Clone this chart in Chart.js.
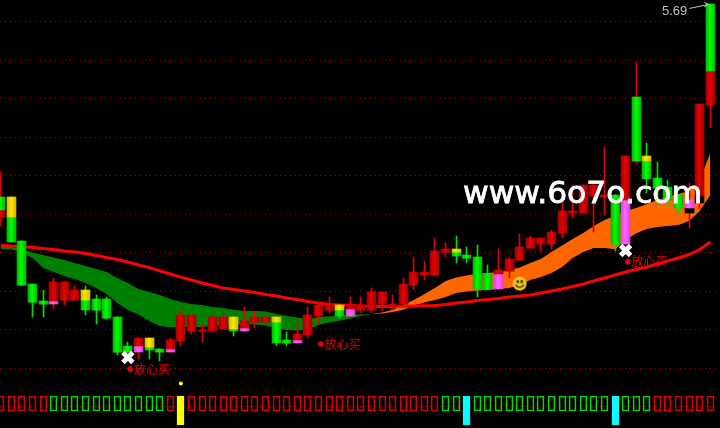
<!DOCTYPE html>
<html>
<head>
<meta charset="utf-8">
<title>K-line</title>
<script src="https://cdn.jsdelivr.net/npm/chart.js@4/dist/chart.umd.min.js"></script>
<style>
    html, body { margin: 0; padding: 0; background: #000; overflow: hidden; }
    canvas { display: block; }
</style>
</head>
<body>
<canvas id="chart" width="720" height="428"></canvas>
<script>
// Price data, one entry per session
const highs = [4.819, 4.690, 4.461, 4.238, 4.207, 4.269, 4.249, 4.228, 4.228, 4.181, 4.171, 4.067, 3.937, 3.958, 3.958, 3.901, 3.958, 4.098, 4.077, 4.030, 4.077, 4.087, 4.067, 4.119, 4.098, 4.077, 4.067, 3.989, 4.041, 4.119, 4.129, 4.171, 4.129, 4.171, 4.171, 4.217, 4.197, 4.181, 4.269, 4.378, 4.358, 4.477, 4.451, 4.487, 4.430, 4.440, 4.337, 4.419, 4.378, 4.498, 4.487, 4.477, 4.518, 4.658, 4.752, 4.752, 4.752, 4.949, 4.700, 4.902, 5.390, 4.969, 4.871, 4.778, 4.700, 4.762, 5.172, 5.691];
const bodyTops = [4.690, 4.690, 4.461, 4.238, 4.150, 4.249, 4.249, 4.207, 4.207, 4.160, 4.160, 4.067, 3.916, 3.958, 3.958, 3.901, 3.948, 4.077, 4.077, 3.999, 4.067, 4.067, 4.067, 4.046, 4.067, 4.067, 4.067, 3.948, 3.978, 4.077, 4.129, 4.129, 4.129, 4.129, 4.129, 4.197, 4.197, 4.134, 4.238, 4.300, 4.300, 4.409, 4.419, 4.419, 4.388, 4.378, 4.290, 4.311, 4.368, 4.430, 4.477, 4.477, 4.508, 4.617, 4.617, 4.752, 4.752, 4.700, 4.700, 4.902, 5.208, 4.902, 4.788, 4.742, 4.700, 4.674, 5.172, 5.691];
const bodySplits = [4.622, 4.586, 4.233, 4.145, 4.134, 4.150, 4.155, 4.155, 4.155, 4.103, 4.061, 3.885, 3.885, 3.916, 3.911, 3.885, 3.901, 3.943, 3.994, 3.992, 3.994, 4.004, 4.004, 4.009, 4.041, 4.041, 4.041, 3.932, 3.948, 3.974, 4.072, 4.103, 4.103, 4.108, 4.103, 4.103, 4.134, 4.124, 4.134, 4.233, 4.285, 4.285, 4.404, 4.404, 4.373, 4.212, 4.212, 4.290, 4.306, 4.363, 4.425, 4.445, 4.445, 4.502, 4.606, 4.606, 4.695, 4.690, 4.445, 4.674, 4.876, 4.876, 4.736, 4.674, 4.632, 4.632, 4.695, 5.343];
const bodyBottoms = [4.586, 4.456, 4.233, 4.145, 4.134, 4.134, 4.155, 4.155, 4.103, 4.103, 4.061, 3.885, 3.885, 3.885, 3.896, 3.885, 3.885, 3.943, 3.994, 3.992, 3.994, 4.004, 3.994, 3.994, 4.041, 4.041, 3.932, 3.932, 3.932, 3.974, 4.072, 4.103, 4.072, 4.072, 4.103, 4.103, 4.134, 4.124, 4.134, 4.233, 4.285, 4.285, 4.404, 4.384, 4.373, 4.212, 4.212, 4.212, 4.306, 4.363, 4.425, 4.445, 4.445, 4.502, 4.606, 4.606, 4.695, 4.690, 4.445, 4.445, 4.876, 4.783, 4.736, 4.674, 4.632, 4.606, 4.658, 5.167];
const lows = [4.539, 4.456, 4.233, 4.067, 4.067, 4.108, 4.129, 4.155, 4.077, 4.030, 4.056, 3.870, 3.885, 3.849, 3.849, 3.839, 3.885, 3.916, 3.978, 3.937, 3.994, 4.004, 3.968, 3.994, 4.009, 4.041, 3.916, 3.916, 3.932, 3.958, 4.030, 4.087, 4.061, 4.072, 4.087, 4.087, 4.098, 4.103, 4.134, 4.207, 4.259, 4.280, 4.378, 4.347, 4.347, 4.171, 4.212, 4.212, 4.269, 4.363, 4.425, 4.409, 4.419, 4.477, 4.580, 4.606, 4.508, 4.596, 4.409, 4.445, 4.861, 4.711, 4.648, 4.638, 4.601, 4.528, 4.627, 5.047];

// Body colour above and below the split, and wick colour
const topKinds = 'GYGGG' + 'RRRYG' + 'GGGRY' + 'GRRRR' + 'RRYRR' + 'RYGRR' + 'RRYRR' + 'RRRRR' + 'RRRYG' + 'GGRRR' + 'RRRRR' + 'RRRGR' + 'GYGGG' + 'PRG';
const lowKinds = 'RGGGG' + 'PRRGG' + 'GGGPG' + 'GPRRR' + 'RRGPR' + 'RGGPR' + 'RRGPR' + 'RRRRR' + 'RRRGG' + 'GGPRR' + 'RRRRR' + 'RRRGP' + 'GGGGG' + 'KKR';
const wickKinds = 'RGGGG' + 'RRRGG' + 'GGGRG' + 'GRRRR' + 'RRGRR' + 'RGGRR' + 'RRGRR' + 'RRRRR' + 'RRRGG' + 'GGRRR' + 'RRRRR' + 'RRRGR' + 'RGGGG' + 'RRR';

// Moving average and the two bands
const avgLine = [4.438, 4.435, 4.432, 4.427, 4.422, 4.417, 4.409, 4.404, 4.396, 4.386, 4.375, 4.365, 4.352, 4.337, 4.324, 4.306, 4.290, 4.274, 4.259, 4.243, 4.230, 4.217, 4.210, 4.202, 4.194, 4.184, 4.176, 4.165, 4.158, 4.147, 4.140, 4.132, 4.129, 4.126, 4.124, 4.121, 4.121, 4.121, 4.122, 4.124, 4.125, 4.126, 4.132, 4.140, 4.145, 4.152, 4.158, 4.163, 4.171, 4.176, 4.181, 4.191, 4.202, 4.212, 4.225, 4.238, 4.254, 4.269, 4.285, 4.300, 4.313, 4.326, 4.342, 4.358, 4.373, 4.391, 4.417, 4.456];
const greenUpper = [4.430, 4.430, 4.419, 4.401, 4.388, 4.375, 4.363, 4.347, 4.331, 4.316, 4.300, 4.269, 4.243, 4.212, 4.197, 4.181, 4.160, 4.145, 4.134, 4.129, 4.119, 4.113, 4.105, 4.098, 4.098, 4.095, 4.082, 4.072, 4.064, 4.056, 4.067, 4.069, 4.075, 4.077, 4.080, 4.082];
const greenLower = [4.419, 4.419, 4.399, 4.373, 4.321, 4.300, 4.279, 4.264, 4.243, 4.217, 4.186, 4.140, 4.103, 4.080, 4.046, 4.020, 4.012, 4.015, 4.015, 4.015, 4.020, 4.023, 4.025, 4.030, 4.028, 4.023, 4.009, 3.999, 3.997, 3.999, 4.025, 4.038, 4.048, 4.059, 4.072, 4.082];
const orangeStart = 35;
const orangeUpper = [4.082, 4.090, 4.105, 4.129, 4.155, 4.186, 4.217, 4.254, 4.272, 4.282, 4.292, 4.295, 4.300, 4.311, 4.324, 4.347, 4.368, 4.404, 4.438, 4.472, 4.503, 4.539, 4.570, 4.591, 4.617, 4.632, 4.653, 4.674, 4.690, 4.705, 4.721, 4.778, 4.918];
const orangeLower = [4.082, 4.085, 4.093, 4.105, 4.126, 4.142, 4.155, 4.171, 4.191, 4.199, 4.204, 4.207, 4.212, 4.217, 4.233, 4.259, 4.274, 4.295, 4.326, 4.373, 4.404, 4.425, 4.425, 4.419, 4.466, 4.502, 4.523, 4.534, 4.539, 4.544, 4.565, 4.617, 4.700];

// Bottom signal strip
const stripKinds = 'RRRRR' + 'GGGGG' + 'GGGGG' + 'GRYRR' + 'RRRRR' + 'RRRRR' + 'RRRRR' + 'RRRRR' + 'RRGGC' + 'GGGGG' + 'GGGGG' + 'GGGCG' + 'GGRRR' + 'RRR';

// Signals
const buyLabel = '放心买';
const buyIndexes = [12, 30, 59];
const buyPrices = [3.797, 3.927, 4.353];
const crossIndexes = [12, 59];
const crossPrices = [3.857, 4.412];
const smileIndexes = [49];
const smilePrices = [4.240];
const alertIndexes = [17];
const alertPrices = [3.722];
const gridPrices = [3.6, 3.8, 4.0, 4.2, 4.4, 4.6, 4.8, 5.0, 5.2, 5.4, 5.6];
const peakLabel = '5.69';
const siteLabel = 'www.6o7o.com';

const sessions = highs.map((_, i) => i);

const bodyColors = {
    G: ['#00b800', '#00ff00'],
    R: ['#a00000', '#e60000'],
    Y: ['#d8b800', '#ffe600'],
    P: ['#e040e0', '#ff66ff'],
    K: ['#000000', '#000000']
};
const wickColors = { G: '#00e000', R: '#e00000' };
const stripColors = { G: '#00e000', R: '#e00000', Y: '#ffff00', C: '#00ffff' };

/**
 * Horizontal shading across one candle body
 */
function bodyFill(kinds) {
    return (context) => {
        if (context.type !== 'data') return 'transparent';
        const chart = context.chart;
        const pixel = chart.scales.x.getPixelForValue(context.dataIndex);
        if (!Number.isFinite(pixel)) return 'transparent';
        const center = Math.floor(pixel) + 0.5;
        const colors = bodyColors[kinds[context.dataIndex]];
        const gradient = chart.ctx.createLinearGradient(center - 4.5, 0, center + 4.5, 0);
        gradient.addColorStop(0, colors[0]);
        gradient.addColorStop(0.45, colors[1]);
        gradient.addColorStop(1, colors[0]);
        return gradient;
    };
}

function barSeries(barThickness, order, lower, upper, extra) {
    return Object.assign({
        type: 'bar',
        data: sessions.map(i => ({ x: i, y: [lower[i], upper[i]] })),
        barThickness: barThickness,
        grouped: false,
        borderWidth: 0,
        borderSkipped: false,
        order: order
    }, extra);
}

function bandEdge(values, start, color, fillTarget, order) {
    return {
        type: 'line',
        data: values.map((v, i) => ({ x: i + start, y: v })),
        borderWidth: 0,
        pointRadius: 0,
        backgroundColor: color,
        fill: fillTarget,
        order: order
    };
}

function markers(indexes, prices, extra) {
    return Object.assign({
        type: 'line',
        showLine: false,
        data: indexes.map((x, i) => ({ x: x, y: prices[i] })),
        order: 0
    }, extra);
}

function makeSmiley() {
    const icon = document.createElement('canvas');
    icon.width = 15;
    icon.height = 15;
    const c = icon.getContext('2d');
    c.fillStyle = '#ecc81e';
    c.beginPath();
    c.arc(7.5, 7.5, 7, 0, Math.PI * 2);
    c.fill();
    c.fillStyle = '#2a2200';
    c.fillRect(4.5, 4, 2, 3);
    c.fillRect(8.5, 4, 2, 3);
    c.strokeStyle = '#2a2200';
    c.lineWidth = 1.2;
    c.beginPath();
    c.arc(7.5, 7, 4.2, 0.35, Math.PI - 0.35);
    c.stroke();
    return icon;
}

// Snap bars to whole pixels so wicks and strip boxes stay sharp
const crispBars = {
    id: 'crispBars',
    afterDatasetsUpdate(chart) {
        chart.getSortedVisibleDatasetMetas().forEach(meta => {
            if (meta.type !== 'bar') return;
            meta.data.forEach(bar => {
                bar.x = Math.floor(bar.x) + 0.5;
                bar.y = Math.round(bar.y);
                bar.base = Math.round(bar.base);
            });
        });
    }
};

// Text on top of the marks: buy labels, peak label with arrow, site name
const annotations = {
    id: 'annotations',
    afterDatasetsDraw(chart) {
        const ctx = chart.ctx;
        const xScale = chart.scales.x;
        const yScale = chart.scales.y;
        ctx.save();

        buyIndexes.forEach((index, i) => {
            const x = xScale.getPixelForValue(index);
            const y = yScale.getPixelForValue(buyPrices[i]);
            ctx.fillStyle = '#ee0000';
            ctx.beginPath();
            ctx.arc(x + 2.2, y, 2.8, 0, Math.PI * 2);
            ctx.fill();
            ctx.font = '12px "Noto Sans CJK SC"';
            ctx.textAlign = 'left';
            ctx.textBaseline = 'middle';
            ctx.fillText(buyLabel, x + 6, y);
        });

        const lastIndex = sessions.length - 1;
        const peakX = xScale.getPixelForValue(lastIndex);
        const peakY = yScale.getPixelForValue(highs[lastIndex]);
        ctx.fillStyle = '#bdbdbd';
        ctx.strokeStyle = '#bdbdbd';
        ctx.lineWidth = 1;
        ctx.font = '13px "Liberation Sans"';
        ctx.textAlign = 'right';
        ctx.textBaseline = 'alphabetic';
        ctx.fillText(peakLabel, peakX - 23, peakY + 11);
        ctx.beginPath();
        ctx.moveTo(peakX - 21, peakY + 4.5);
        ctx.lineTo(peakX - 2, peakY + 0.5);
        ctx.moveTo(peakX - 6, peakY - 1.5);
        ctx.lineTo(peakX - 2, peakY + 0.5);
        ctx.lineTo(peakX - 6, peakY + 3);
        ctx.stroke();

        // Stretched to the width of the site name
        ctx.font = '30px "DejaVu Sans"';
        ctx.textAlign = 'left';
        const stretch = 239 / ctx.measureText(siteLabel).width;
        ctx.translate(463, 203);
        ctx.scale(stretch, 1);
        ctx.fillStyle = '#ffffff';
        ctx.strokeStyle = '#ffffff';
        ctx.lineWidth = 0.8;
        ctx.fillText(siteLabel, 0, 0);
        ctx.strokeText(siteLabel, 0, 0);
        ctx.restore();
    }
};

new Chart(document.getElementById('chart'), {
    data: {
        datasets: [
            barSeries(9, 1, bodySplits, bodyTops, { backgroundColor: bodyFill(topKinds) }),
            barSeries(9, 2, bodyBottoms, bodySplits, { backgroundColor: bodyFill(lowKinds) }),
            barSeries(1, 3, lows, highs, {
                backgroundColor: (context) => wickColors[wickKinds[context.dataIndex]]
            }),
            {
                type: 'line',
                data: sessions.map(i => ({ x: i, y: avgLine[i] })),
                borderColor: '#ff0000',
                borderWidth: 3,
                pointRadius: 0,
                fill: false,
                order: 4
            },
            bandEdge(orangeUpper, orangeStart, '#ff6600', '+1', 5),
            bandEdge(orangeLower, orangeStart, '#ff6600', false, 5),
            bandEdge(greenUpper, 0, '#008000', '+1', 6),
            bandEdge(greenLower, 0, '#008000', false, 6),
            {
                type: 'bar',
                yAxisID: 'strip',
                data: sessions.map(i => ({
                    x: i,
                    y: [stripKinds[i] === 'Y' || stripKinds[i] === 'C' ? -1 : 0, 1]
                })),
                barThickness: 7,
                grouped: false,
                borderWidth: 1,
                borderSkipped: false,
                borderColor: (context) => stripColors[stripKinds[context.dataIndex]],
                backgroundColor: (context) => {
                    const kind = stripKinds[context.dataIndex];
                    return kind === 'Y' || kind === 'C' ? stripColors[kind] : 'transparent';
                },
                order: 3
            },
            markers(crossIndexes, crossPrices, {
                pointStyle: 'crossRot',
                pointRadius: 7,
                pointBorderColor: '#ffffff',
                pointBorderWidth: 5
            }),
            markers(smileIndexes, smilePrices, {
                pointStyle: makeSmiley(),
                pointRadius: 8
            }),
            markers(alertIndexes, alertPrices, {
                pointRadius: 2,
                pointBorderWidth: 0,
                pointBackgroundColor: '#ffff00'
            })
        ]
    },
    options: {
        responsive: false,
        animation: false,
        layout: { autoPadding: false, padding: 0 },
        plugins: {
            legend: { display: false },
            tooltip: { enabled: false }
        },
        scales: {
            x: {
                type: 'linear',
                min: -0.0755,
                max: 67.913,
                offset: false,
                display: false
            },
            y: {
                type: 'linear',
                min: 3.491,
                max: 5.7115,
                afterBuildTicks: (scale) => {
                    scale.ticks = gridPrices.map(value => ({ value: value }));
                },
                ticks: { display: false },
                border: { display: false, dash: [1, 4] },
                grid: { color: '#c80000', lineWidth: 1, drawTicks: false }
            },
            strip: {
                type: 'linear',
                min: -1.177,
                max: 27.94,
                display: false
            }
        }
    },
    plugins: [crispBars, annotations]
});
</script>
</body>
</html>
